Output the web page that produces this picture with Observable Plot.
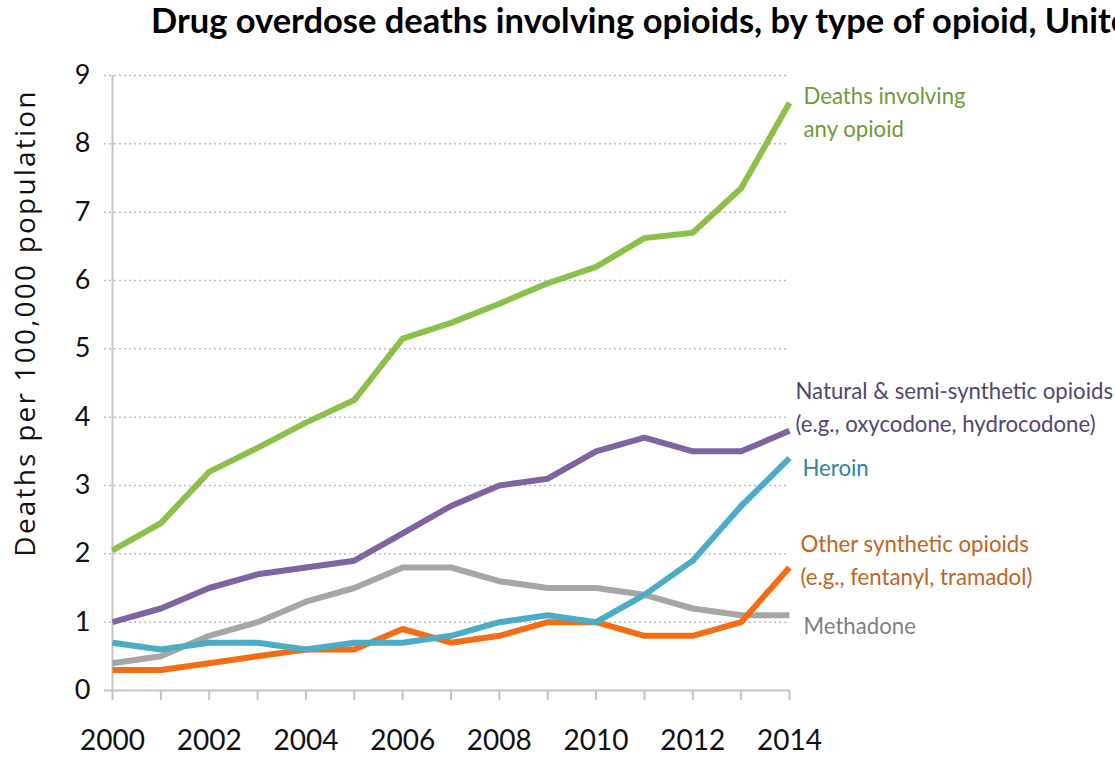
<!DOCTYPE html>
<html>
<head>
<meta charset="utf-8">
<script src="https://cdn.jsdelivr.net/npm/d3@7"></script>
<script src="https://cdn.jsdelivr.net/npm/@observablehq/plot@0.6"></script>
<style>
  html, body { margin: 0; padding: 0; background: #fff; overflow: hidden; }
  #wrap { position: relative; width: 1115px; height: 758px; overflow: hidden; }
  #title { position: absolute; left: 151px; top: -2px; white-space: nowrap;
    font-family: Lato, "Open Sans", sans-serif; transform: scaleX(0.985); transform-origin: left top;
    font-weight: bold; font-size: 35px; color: #000; }
  #chart { position: absolute; left: 0; top: 0; }
</style>
</head>
<body>
<div id="wrap">
  <div id="chart"></div>
  <div id="title">Drug overdose deaths involving opioids, by type of opioid, United States, 2000-2014</div>
</div>
<script>
const years = [2000,2001,2002,2003,2004,2005,2006,2007,2008,2009,2010,2011,2012,2013,2014];
const anyOpioid      = [2.05,2.45,3.2,3.55,3.92,4.25,5.15,5.38,5.66,5.96,6.2,6.62,6.7,7.35,8.6];
const naturalSemi    = [1.0,1.2,1.5,1.7,1.8,1.9,2.3,2.7,3.0,3.1,3.5,3.7,3.5,3.5,3.8];
const heroin         = [0.7,0.6,0.7,0.7,0.6,0.7,0.7,0.8,1.0,1.1,1.0,1.4,1.9,2.7,3.4];
const otherSynthetic = [0.3,0.3,0.4,0.5,0.6,0.6,0.9,0.7,0.8,1.0,1.0,0.8,0.8,1.0,1.8];
const methadone      = [0.4,0.5,0.8,1.0,1.3,1.5,1.8,1.8,1.6,1.5,1.5,1.4,1.2,1.1,1.1];

const seriesNames = ["Methadone","Other synthetic","Natural & semi-synthetic","Heroin","Any opioid"];
const seriesValues = [methadone, otherSynthetic, naturalSemi, heroin, anyOpioid];
const seriesColors = ["#a6a6a6","#f26d14","#8064a2","#4bacc6","#8cc04b"];
const labelTexts = ["Methadone","Other synthetic opioids\n(e.g., fentanyl, tramadol)","Natural & semi-synthetic opioids\n(e.g., oxycodone, hydrocodone)","Heroin","Deaths involving\nany opioid"];
const labelColors = ["#7f7f7f","#bf6420","#54456f","#31849b","#6f9a3a"];

const yTicks = [0,1,2,3,4,5,6,7,8,9];
const xLabelTicks = [2000,2002,2004,2006,2008,2010,2012,2014];
const yTitle = "Deaths per 100,000 population";

const rows = [];
seriesNames.forEach((s, i) => years.forEach((yr, j) => rows.push({series: s, year: yr, value: seriesValues[i][j]})));

const labels = seriesNames.map((s, i) => ({series: s, year: years[years.length-1], value: seriesValues[i][years.length-1], text: labelTexts[i], color: labelColors[i]}));
// label offsets (styling, not data)
const labelDx = {"Methadone":14, "Other synthetic":11, "Natural & semi-synthetic":6, "Heroin":13, "Any opioid":14};
const labelDy = {"Methadone":8, "Other synthetic":-10, "Natural & semi-synthetic":-26, "Heroin":7, "Any opioid":7};

const font = 'Lato, "Open Sans", sans-serif';

const plot = Plot.plot({
  width: 1115,
  height: 758,
  marginTop: 75,
  marginBottom: 68,
  marginLeft: 112,
  marginRight: 326,
  style: {fontFamily: font, background: "#fff"},
  x: {domain: [2000, 2014]},
  y: {domain: [0, 9]},
  color: {domain: seriesNames, range: seriesColors},
  marks: [
    Plot.ruleY(yTicks.filter(d => d > 0), {y: d => d, stroke: "#bdbdbd", strokeDasharray: "2,3", strokeWidth: 1.5, insetLeft: -8}),
    Plot.axisY({ticks: yTicks, tickSize: 0, tickPadding: 22, fontSize: 27, tickFormat: d => d, label: null, color: "#111"}),
    Plot.ruleX([2000], {stroke: "#c4c4c4", strokeWidth: 2}),
    Plot.ruleY([0], {stroke: "#c4c4c4", strokeWidth: 2, insetLeft: -8}),
    Plot.axisX({ticks: years, tickSize: 10, tickFormat: () => "", stroke: "#c4c4c4", strokeWidth: 2, label: null}),
    Plot.axisX({ticks: xLabelTicks, tickSize: 0, tickPadding: 40, fontSize: 28, tickFormat: d => String(d), label: null, color: "#111"}),
    Plot.line(rows, {x: "year", y: "value", z: "series", stroke: "series", strokeWidth: 6, strokeLinejoin: "round", strokeLinecap: "butt"}),
    ...labels.map(l => Plot.text([l], {x: "year", y: "value", text: "text", fill: l.color, textAnchor: "start", lineAnchor: "middle", dx: labelDx[l.series], dy: labelDy[l.series], fontSize: 22.2, lineHeight: 1.5})),
    Plot.text([yTitle], {text: d => d, frameAnchor: "left", textAnchor: "middle", lineAnchor: "middle", rotate: -90, dx: -86, dy: -60, fontSize: 28, fill: "#111", fontFamily: '"Open Sans", sans-serif'})
  ]
});
document.getElementById("chart").appendChild(plot);
d3.select(plot).selectAll("text").filter(function(){ return this.textContent === yTitle; }).style("letter-spacing", "2.2px");
</script>
</body>
</html>
